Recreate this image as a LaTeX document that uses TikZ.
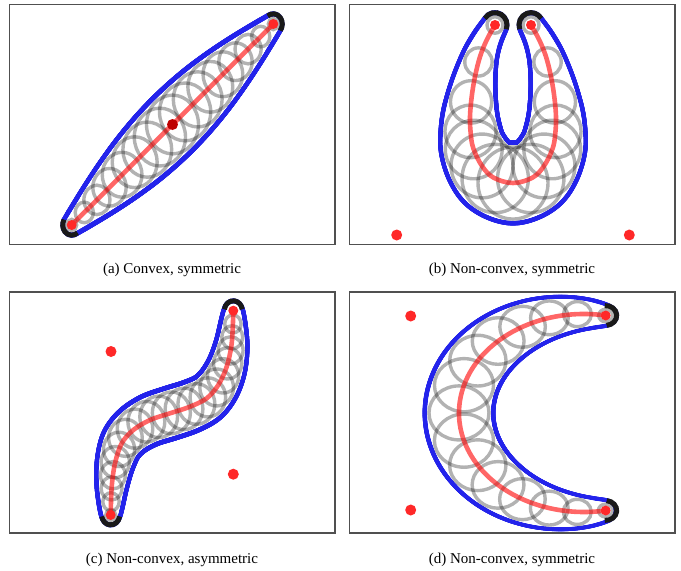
\documentclass[tikz,border=0pt]{standalone}
\usepackage{fontspec}
\setmainfont{Liberation Serif}
\usetikzlibrary{decorations.markings}
\definecolor{bl}{RGB}{35,35,235}
\definecolor{rd}{RGB}{255,40,40}
\definecolor{drd}{RGB}{190,0,0}
\definecolor{frm}{RGB}{80,80,80}
\newcommand\curRad{10}
\newcommand\curK{1}
\newcommand\getS{\pgfmathsetmacro\myS{\pgfkeysvalueof{/pgf/decoration/mark info/distance from start}/\pgfdecoratedpathlength}}
\newcommand\bandcode[2]{%
  \getS
  \pgfmathsetmacro\myRx{\curRad+#1}%
  \pgfmathsetmacro\myRy{\myRx*\curK}%
  \pgftransformresetnontranslations
  \fill[#2] (0,0) ellipse[x radius=\myRx, y radius=\myRy];}
\newcommand\ringcode{%
  \getS
  \pgfmathsetmacro\myRx{\curRad-4}%
  \pgfmathsetmacro\myRy{\myRx*\curK}%
  \pgftransformresetnontranslations
  \draw[ringsty] (0,0) ellipse[x radius=\myRx, y radius=\myRy];}
\tikzset{
  band/.style 2 args={decorate, decoration={markings, mark=between positions 0 and 1 step 0.004 with {\bandcode{#1}{#2}}}},
  rings/.style={decorate, decoration={markings, mark=between positions 0 and 1.0001 step #1 with {\ringcode}}},
  ringsB/.style={decorate, decoration={markings,
     mark=at position 0 with {\ringcode}, mark=at position 0.11 with {\ringcode},
     mark=at position 0.22 with {\ringcode}, mark=at position 0.3 with {\ringcode},
     mark=at position 0.35 with {\ringcode}, mark=at position 0.4 with {\ringcode},
     mark=at position 0.45 with {\ringcode}, mark=at position 0.5 with {\ringcode},
     mark=at position 0.55 with {\ringcode}, mark=at position 0.6 with {\ringcode},
     mark=at position 0.65 with {\ringcode}, mark=at position 0.7 with {\ringcode},
     mark=at position 0.78 with {\ringcode}, mark=at position 0.89 with {\ringcode},
     mark=at position 0.9999 with {\ringcode}}},
  ringsty/.style={draw=black, draw opacity=0.3, line width=3.4},
  redline/.style={draw=red, draw opacity=0.6, line width=4.6},
  capline/.style={draw=black!90, line width=5},
  frame/.style={draw=frm, line width=1.2},
  enddot/.style={circle, fill=rd, inner sep=0, minimum size=10},
  bigdot/.style={circle, fill=rd, inner sep=0, minimum size=11},
  captxt/.style={font=\fontsize{15}{17}\selectfont, inner sep=0},
  pA/.style={insert path={(71.7,225) -- (273.3,24)}},
  pB/.style={insert path={(495,25) -- plot[smooth, tension=0.6] coordinates {(494.1,26.6) (486.7,40) (480,56.7) (475,76.7) (471.7,96.7) (470,116.7) (470.7,133.3) (473.3,148.3) (481.7,165.5) (493.3,177.5) (513,183) (532.7,177.5) (544.3,165.5) (552.7,148.3) (555.3,133.3) (556,116.7) (554.3,96.7) (551,76.7) (546,56.7) (539.3,40) (531.9,26.6)} -- (531,25)}},
  pC/.style={insert path={(110.7,515) -- plot[smooth, tension=0.55] coordinates {(110.75,513) (111.7,486.7) (115,463.3) (121.7,443.3) (133.3,430) (150,420) (170,413.3) (190,406.7) (206.7,398.3) (218.3,385) (226.7,366.7) (231.7,343.3) (233.3,312.7)} -- (233.3,310.7)}},
  pD/.style={insert path={(605.7,315.5) arc[start angle=-80, end angle=-280, x radius=125, y radius=99]}}
}
\begin{document}
\begin{tikzpicture}[x=1pt,y=-1pt]
\useasboundingbox (0,0) rectangle (681,571);
\fill[white] (0,0) rectangle (681,571);
% frames
\draw[frame] (9.5,4.5) rectangle (335,244.5);
\draw[frame] (349.5,4.5) rectangle (675,244.5);
\draw[frame] (9.5,292) rectangle (335,533);
\draw[frame] (349.5,292) rectangle (675,533);

% ---------- panel a
\renewcommand\curRad{9+21*sin(180*\myS)}\renewcommand\curK{1.13}
\path[band={2.4}{bl}, pA];
\path[band={-2.4}{white}, pA];
\path[rings=0.0625, pA];
\path[redline, pA];
\coordinate (a0) at (71.7,225);
\coordinate (a1) at (273.3,24);
\draw[capline] (a0) ++(50:9 and 10.2) arc[start angle=50, end angle=212, x radius=9, y radius=10.2];
\draw[capline] (a1) ++(-128:9 and 10.2) arc[start angle=-128, end angle=40, x radius=9, y radius=10.2];
\node[enddot] (adot0) at (a0) {};
\node[enddot] (adot1) at (a1) {};
\node[circle, fill=drd, inner sep=0, minimum size=11] (amid) at (172.5,124.5) {};

% ---------- panel b
\renewcommand\curRad{12+27*(0.6*(1-abs(2*\myS-1))+0.4*(max(sin(180*\myS),0))^1.5)}\renewcommand\curK{1.03}
\path[band={2.4}{bl}, pB];
\path[band={-2.4}{white}, pB];
\path[ringsB, pB];
\path[redline, pB];
\coordinate (b0) at (495,25);
\coordinate (b1) at (531,25);
\draw[capline] (b0) ++(212:12 and 12.4) arc[start angle=212, end angle=380, x radius=12, y radius=12.4];
\draw[capline] (b1) ++(160:12 and 12.4) arc[start angle=160, end angle=328, x radius=12, y radius=12.4];
\node[enddot] (bdot0) at (b0) {};
\node[enddot] (bdot1) at (b1) {};
\node[bigdot] (bp1) at (396.7,235) {};
\node[bigdot] (bp2) at (629.3,235) {};

% ---------- panel c
\renewcommand\curRad{9+14*(max(sin(180*\myS),0))^0.8}\renewcommand\curK{1.1}
\path[band={2.4}{bl}, pC];
\path[band={-2.4}{white}, pC];
\path[rings=0.05, pC];
\path[redline, pC];
\coordinate (c0) at (110.7,515);
\coordinate (c1) at (233.3,310.7);
\draw[capline] (c0) ++(8:9 and 9.9) arc[start angle=8, end angle=172, x radius=9, y radius=9.9];
\draw[capline] (c1) ++(188:9 and 9.9) arc[start angle=188, end angle=352, x radius=9, y radius=9.9];
\node[enddot] (cdot0) at (c0) {};
\node[enddot] (cdot1) at (c1) {};
\node[bigdot] (cp1) at (111,351.5) {};
\node[bigdot] (cp2) at (233.3,474.2) {};

% ---------- panel d
\renewcommand\curRad{11+23*(max(sin(180*\myS),0))^0.8}\renewcommand\curK{0.9}
\path[band={2.4}{bl}, pD];
\path[band={-2.4}{white}, pD];
\path[rings=0.0714, pD];
\path[redline, pD];
\coordinate (d0) at (605.7,315.5);
\coordinate (d1) at (605.7,510.5);
\draw[capline] (d0) ++(-95:11 and 9.9) arc[start angle=-95, end angle=85, x radius=11, y radius=9.9];
\draw[capline] (d1) ++(-85:11 and 9.9) arc[start angle=-85, end angle=95, x radius=11, y radius=9.9];
\node[enddot] (ddot0) at (d0) {};
\node[enddot] (ddot1) at (d1) {};
\node[bigdot] (dp1) at (410.7,316) {};
\node[bigdot] (dp2) at (410.7,510) {};

% captions
\node[captxt] (capa) at (172,270) {(a) Convex, symmetric};
\node[captxt] (capb) at (512,270) {(b) Non-convex, symmetric};
\node[captxt] (capc) at (172,560) {(c) Non-convex, asymmetric};
\node[captxt] (capd) at (512,560) {(d) Non-convex, symmetric};
\end{tikzpicture}
\end{document}
